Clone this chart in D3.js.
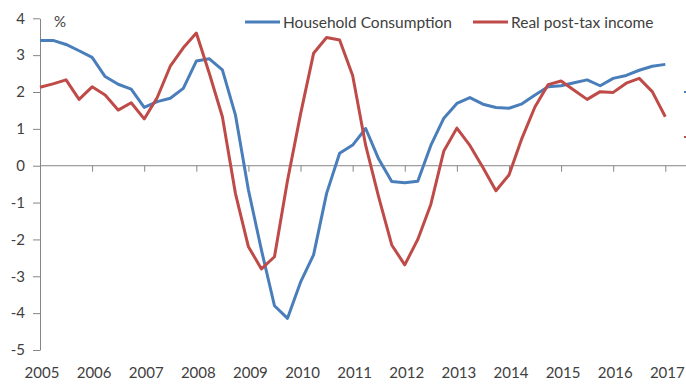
<!DOCTYPE html>
<html>
<head>
<meta charset="utf-8">
<script src="https://cdn.jsdelivr.net/npm/d3@7"></script>
<style>
  body { margin: 0; background: #fff; }
  text { font-family: Lato, "Open Sans", sans-serif; fill: #404040; }
</style>
</head>
<body>
<svg></svg>
<script>
/* Household consumption vs real post-tax income, % y/y, quarterly */
var w = 686, h = 389;

var years = [2005, 2006, 2007, 2008, 2009, 2010, 2011, 2012, 2013, 2014, 2015, 2016, 2017];
var yTicks = [-5, -4, -3, -2, -1, 0, 1, 2, 3, 4];

var consumption = [
  3.4, 3.4, 3.29, 3.12, 2.94, 2.42, 2.21, 2.08, 1.58, 1.74, 1.83, 2.1,
  2.84, 2.9, 2.6, 1.38, -0.66, -2.29, -3.8, -4.14, -3.16, -2.42, -0.75, 0.34,
  0.56, 1.01, 0.18, -0.43, -0.46, -0.42, 0.55, 1.29, 1.69, 1.85, 1.67, 1.58,
  1.56, 1.68, 1.92, 2.14, 2.17, 2.25, 2.33, 2.17, 2.37, 2.45, 2.59, 2.7, 2.75
];
var income = [
  2.13, 2.22, 2.33, 1.8, 2.14, 1.92, 1.51, 1.71, 1.27, 1.85, 2.7, 3.2,
  3.6, 2.5, 1.33, -0.75, -2.2, -2.8, -2.47, -0.4, 1.4, 3.05, 3.48, 3.41,
  2.45, 0.55, -0.85, -2.15, -2.69, -2.0, -1.05, 0.4, 1.02, 0.55, -0.05, -0.68,
  -0.25, 0.75, 1.6, 2.2, 2.3, 2.05, 1.8, 2.01, 1.99, 2.24, 2.37, 2.01, 1.33
];

var series = [
  {name: "Household Consumption", values: consumption, color: "#4a7ebb"},
  {name: "Real post-tax income", values: income, color: "#be4b48"}
];

var svg = d3.select("svg")
            .attr("width", w)
            .attr("height", h);

var x = d3.scaleLinear().domain([2005, 2017]).range([40, 665.3]);
var y = d3.scaleLinear().domain([-5, 4]).range([350, 18.3]);

var axisColor = "#868686";

// y axis (plain hyphen for negatives, like the original)
var yAxis = svg.append("g")
  .attr("transform", "translate(40,0)")
  .call(d3.axisLeft(y).tickValues(yTicks).tickSize(7).tickSizeOuter(0).tickPadding(8)
          .tickFormat(function(d) { return String(d); }));
yAxis.selectAll("line, path").attr("stroke", axisColor);
yAxis.selectAll("text").attr("font-size", 15).attr("font-family", "Lato").attr("fill", "#404040");

// x axis along zero
var xAxis = svg.append("g")
  .attr("transform", "translate(0," + y(0) + ")")
  .call(d3.axisBottom(x).tickValues(years).tickSize(6).tickSizeOuter(0).tickFormat(""));
xAxis.select("path").remove();
xAxis.selectAll("line").attr("stroke", axisColor);
svg.append("line")
  .attr("x1", 40).attr("x2", 690)
  .attr("y1", y(0)).attr("y2", y(0))
  .attr("stroke", axisColor);

// year labels at bottom
svg.append("g").selectAll("text")
  .data(years)
  .enter()
  .append("text")
  .attr("x", function(d) { return x(d) + 2; })
  .attr("y", 378)
  .attr("text-anchor", "middle")
  .attr("font-size", 15)
  .text(function(d) { return d; });

svg.append("text")
  .attr("x", 54).attr("y", 27)
  .attr("font-size", 15)
  .text("%");

// lines
var line = d3.line()
  .x(function(d, i) { return x(2005 + i / 4); })
  .y(function(d) { return y(d); });

svg.append("g").selectAll("path")
  .data(series)
  .enter()
  .append("path")
  .attr("d", function(d) { return line(d.values); })
  .attr("fill", "none")
  .attr("stroke", function(d) { return d.color; })
  .attr("stroke-width", 3)
  .attr("stroke-linejoin", "round");

// legend
var legendX = [245, 473];
var legend = svg.append("g").selectAll("g")
  .data(series)
  .enter()
  .append("g")
  .attr("transform", function(d, i) { return "translate(" + legendX[i] + ",22)"; });
legend.append("line")
  .attr("x1", 0).attr("x2", 35)
  .attr("stroke", function(d) { return d.color; })
  .attr("stroke-width", 3);
legend.append("text")
  .attr("x", 38).attr("y", 5.5)
  .attr("font-size", 15.5)
  .text(function(d) { return d.name; });

// cut-off markers at right edge
svg.append("g").selectAll("line")
  .data(series)
  .enter()
  .append("line")
  .attr("x1", 684).attr("x2", 692)
  .attr("y1", function(d, i) { return [92, 137][i]; })
  .attr("y2", function(d, i) { return [92, 137][i]; })
  .attr("stroke", function(d) { return d.color; })
  .attr("stroke-width", 2);
</script>
</body>
</html>
